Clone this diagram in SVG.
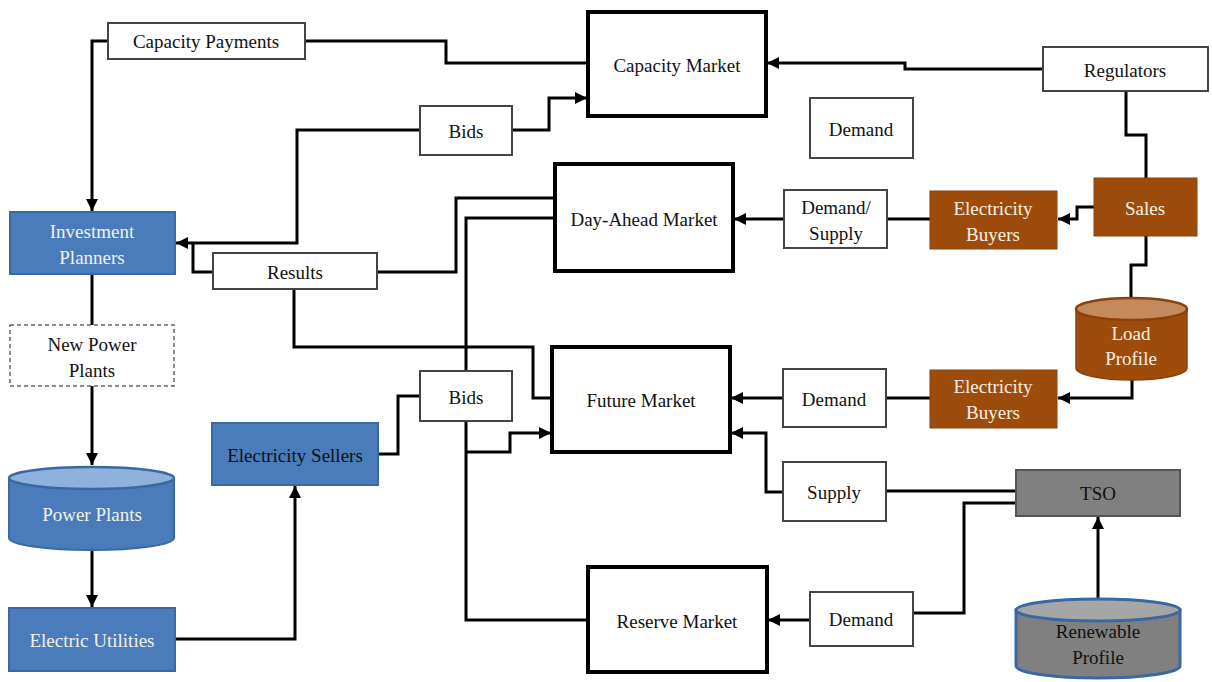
<svg xmlns="http://www.w3.org/2000/svg" width="1212" height="682" viewBox="0 0 1212 682">
<style>
text{font-family:'Liberation Serif','Times New Roman',Times,'DejaVu Serif',serif;font-size:19px;text-anchor:middle;dominant-baseline:central;fill:#111}
.w{fill:#fff;stroke:#444;stroke-width:2}
.m{fill:#fff;stroke:#000;stroke-width:4}
.b{fill:#4a7cbc;stroke:#3a68a2;stroke-width:2}
.br{fill:#9e4c0b;stroke:#8a420a;stroke-width:1}
.g{fill:#808080;stroke:#555;stroke-width:2}
.lt{fill:#f5f0e6}
.c{fill:none;stroke:#000;stroke-width:3}
</style>
<defs>
<marker id="ah" viewBox="0 0 10 10" refX="10" refY="5" markerWidth="4" markerHeight="4" orient="auto" markerUnits="strokeWidth">
<path d="M0,0 L10,5 L0,10 z" fill="#000"/>
</marker>
</defs>
<rect width="1212" height="682" fill="#fff"/>
<g id="connectors">
<path class="c" d="M108,41 H92 V211" marker-end="url(#ah)"/>
<path class="c" d="M305,41 H446 V63 H588"/>
<path class="c" d="M420,130 H297 V243 H176" marker-end="url(#ah)"/>
<path class="c" d="M512,130 H549 V98 H587" marker-end="url(#ah)"/>
<path class="c" d="M213,272 H193 V243"/>
<path class="c" d="M377,272 H456 V198 H555"/>
<path class="c" d="M294,289 V347 H533 V398 H552"/>
<path class="c" d="M555,218 H466 V371"/>
<path class="c" d="M466,421 V620 H588"/>
<path class="c" d="M466,452 H510 V433 H551" marker-end="url(#ah)"/>
<path class="c" d="M378,454 H398 V396 H420"/>
<path class="c" d="M175,639 H295 V486" marker-end="url(#ah)"/>
<path class="c" d="M92,274 V325"/>
<path class="c" d="M92,386 V465" marker-end="url(#ah)"/>
<path class="c" d="M92,550 V607" marker-end="url(#ah)"/>
<path class="c" d="M1043,69 H905 V63 H767" marker-end="url(#ah)"/>
<path class="c" d="M1126,91 V135 H1146 V178"/>
<path class="c" d="M1094,207 H1077 V219 H1058" marker-end="url(#ah)"/>
<path class="c" d="M930,219 H887"/>
<path class="c" d="M784,219 H734" marker-end="url(#ah)"/>
<path class="c" d="M1146,236 V265 H1131 V297"/>
<path class="c" d="M1132,380 V398 H1058" marker-end="url(#ah)"/>
<path class="c" d="M930,398 H886"/>
<path class="c" d="M783,398 H731" marker-end="url(#ah)"/>
<path class="c" d="M783,492 H766 V433 H731" marker-end="url(#ah)"/>
<path class="c" d="M886,491 H1016"/>
<path class="c" d="M1016,503 H964 V613 H913"/>
<path class="c" d="M810,620 H768" marker-end="url(#ah)"/>
<path class="c" d="M1098,598 V517" marker-end="url(#ah)"/>
</g>
<g id="capacity-payments"><rect class="w" x="108" y="23" width="197" height="36"/><text x="206" y="41">Capacity Payments</text></g>
<g id="capacity-market"><rect class="m" x="588" y="12" width="178" height="104"/><text x="677" y="65">Capacity Market</text></g>
<g id="bids-top"><rect class="w" x="420" y="106" width="92" height="49"/><text x="466" y="131">Bids</text></g>
<g id="demand-top"><rect class="w" x="810" y="98" width="103" height="60"/><text x="861" y="129">Demand</text></g>
<g id="regulators"><rect class="w" x="1043" y="47" width="165" height="44"/><text x="1125" y="70">Regulators</text></g>
<g id="investment-planners"><rect class="b" x="10" y="212" width="165" height="62"/><text class="lt" x="92" y="231">Investment</text><text class="lt" x="92" y="257">Planners</text></g>
<g id="results"><rect class="w" x="213" y="253" width="164" height="36"/><text x="295" y="272">Results</text></g>
<g id="day-ahead-market"><rect class="m" x="555" y="164" width="178" height="107"/><text x="644" y="219">Day-Ahead Market</text></g>
<g id="demand-supply"><rect class="w" x="784" y="190" width="103" height="58"/><text x="836" y="207">Demand/</text><text x="836" y="233">Supply</text></g>
<g id="electricity-buyers-top"><rect class="br" x="930" y="191" width="127" height="58"/><text class="lt" x="993" y="208">Electricity</text><text class="lt" x="993" y="234">Buyers</text></g>
<g id="sales"><rect class="br" x="1094" y="178" width="103" height="58"/><text class="lt" x="1145" y="208">Sales</text></g>
<g id="load-profile">
<path d="M1076,309 V368 A55.5,12 0 0 0 1187,368 V309 Z" fill="#9e4c0b" stroke="#8a420a" stroke-width="1.5"/>
<ellipse cx="1131.5" cy="309" rx="55.5" ry="11" fill="#c38a5e" stroke="#8a420a" stroke-width="2.5"/>
<text class="lt" x="1131" y="333">Load</text><text class="lt" x="1131" y="358">Profile</text></g>
<g id="new-power-plants"><rect x="10" y="325" width="164" height="61" fill="#fff" stroke="#666" stroke-width="1.5" stroke-dasharray="4,3"/><text x="92" y="344">New Power</text><text x="92" y="370">Plants</text></g>
<g id="power-plants">
<path d="M9,478 V538 A82.5,12 0 0 0 174,538 V478 Z" fill="#4a7cbc" stroke="#3a68a2" stroke-width="2"/>
<ellipse cx="91.5" cy="478" rx="82.5" ry="11" fill="#8fb2dc" stroke="#3a68a2" stroke-width="2.5"/>
<text class="lt" x="92" y="514">Power Plants</text></g>
<g id="electric-utilities"><rect class="b" x="9" y="608" width="166" height="63"/><text class="lt" x="92" y="640">Electric Utilities</text></g>
<g id="electricity-sellers"><rect class="b" x="212" y="423" width="166" height="62"/><text x="295" y="455">Electricity Sellers</text></g>
<g id="bids-mid"><rect class="w" x="420" y="371" width="92" height="50"/><text x="466" y="397">Bids</text></g>
<g id="future-market"><rect class="m" x="552" y="347" width="178" height="105"/><text x="641" y="400">Future Market</text></g>
<g id="demand-mid"><rect class="w" x="783" y="369" width="103" height="58"/><text x="834" y="399">Demand</text></g>
<g id="electricity-buyers-bottom"><rect class="br" x="930" y="370" width="127" height="58"/><text class="lt" x="993" y="386">Electricity</text><text class="lt" x="993" y="412">Buyers</text></g>
<g id="supply"><rect class="w" x="783" y="462" width="103" height="59"/><text x="834" y="492">Supply</text></g>
<g id="tso"><rect class="g" x="1016" y="470" width="164" height="46"/><text x="1098" y="493">TSO</text></g>
<g id="reserve-market"><rect class="m" x="588" y="567" width="179" height="105"/><text x="677" y="621">Reserve Market</text></g>
<g id="demand-bottom"><rect class="w" x="810" y="592" width="103" height="54"/><text x="861" y="619">Demand</text></g>
<g id="renewable-profile">
<path d="M1016,610 V666 A82,12 0 0 0 1180,666 V610 Z" fill="#808080" stroke="#3a68a2" stroke-width="3"/>
<ellipse cx="1098" cy="610" rx="82" ry="11" fill="#a6a6a6" stroke="#3a68a2" stroke-width="3"/>
<text x="1098" y="631">Renewable</text><text x="1098" y="657">Profile</text></g>
</svg>
